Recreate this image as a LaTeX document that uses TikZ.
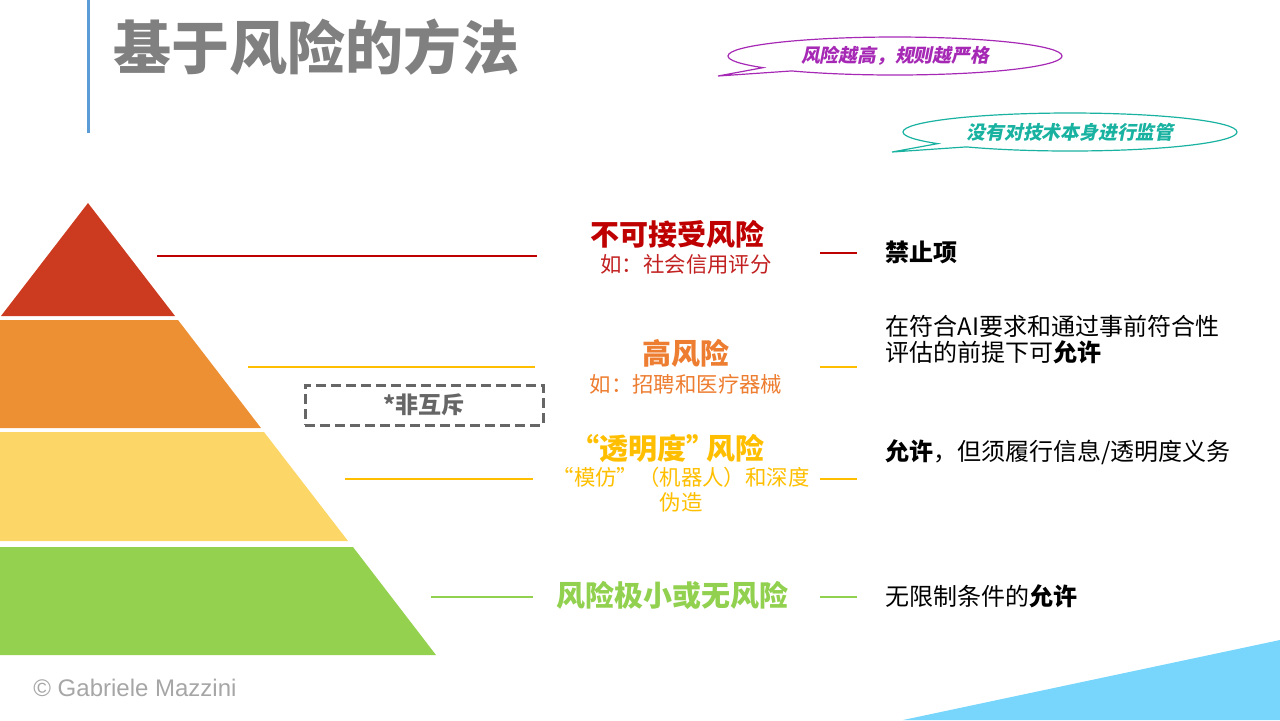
\documentclass[tikz,border=0pt]{standalone}
\usepackage{fontspec}
\setmainfont{Noto Sans CJK SC}
\newfontfamily\burbujafont{Noto Sans CJK SC}[FakeSlant=0.2]
\newfontfamily\creditofont{Liberation Sans}
\usetikzlibrary{positioning,shapes.callouts}
\definecolor{riskred}{rgb}{0.75,0.00,0.00}
\definecolor{exred}{rgb}{0.76,0.13,0.13}
\definecolor{riskorange}{rgb}{0.93,0.49,0.19}
\definecolor{riskgold}{rgb}{1.00,0.75,0.00}
\definecolor{riskgreen}{rgb}{0.57,0.82,0.31}
\definecolor{pyrred}{rgb}{0.80,0.23,0.12}
\definecolor{pyrorange}{rgb}{0.93,0.56,0.20}
\definecolor{pyryellow}{rgb}{0.99,0.84,0.40}
\definecolor{pyrgreen}{rgb}{0.58,0.82,0.31}
\definecolor{titlegray}{rgb}{0.50,0.50,0.50}
\definecolor{barblue}{rgb}{0.36,0.61,0.84}
\definecolor{bubblepurple}{rgb}{0.65,0.16,0.71}
\definecolor{bubbleteal}{rgb}{0.10,0.70,0.63}
\definecolor{boxgray}{rgb}{0.40,0.40,0.40}
\definecolor{creditgray}{rgb}{0.65,0.65,0.65}
\definecolor{cornerblue}{rgb}{0.47,0.84,0.99}
\tikzset{
  nivel/.style={
    inner sep=0pt,
    align=center,
    font=\bfseries\fontsize{14.5}{17}\selectfont
  },
  ejemplo/.style={
    inner sep=0pt,
    align=center,
    font=\fontsize{10.7}{12.5}\selectfont
  },
  regla/.style={
    inner sep=0pt,
    anchor=west,
    align=left,
    font=\fontsize{12}{13}\selectfont
  },
  burbuja/.style={
    ellipse callout,
    callout pointer arc=14,
    inner sep=0pt,
    minimum width=167pt,
    minimum height=19pt,
    line width=0.6pt,
    font=\burbujafont\bfseries\fontsize{9.4}{11}\selectfont
  },
  linea/.style={
    line width=1pt
  }
}

\begin{document}
\begin{tikzpicture}[x=0.5pt,y=-0.5pt]
\useasboundingbox (0,0) rectangle (1280,720);
\clip (0,0) rectangle (1280,720);
\fill[cornerblue] (903,720) -- (1280,640) -- (1280,720) -- cycle;
\draw[line width=1.5pt, barblue] (88,0) -- (88,133);
\node[anchor=west, inner sep=0pt, text=titlegray, font=\bfseries\fontsize{29}{32}\selectfont] (titulo) at (113,47) {基于风险的方法};
\node[burbuja, draw=bubblepurple, text=bubblepurple, callout absolute pointer={(718,76)}] (masriesgo) at (895,56) {风险越高，规则越严格};
\node[burbuja, draw=bubbleteal, text=bubbleteal, callout absolute pointer={(892,152)}] (sintec) at (1070,132) {没有对技术本身进行监管};
% piramide
\fill[pyrred] (88,203) -- (175,316) -- (1,316) -- cycle;
\fill[pyrorange] (-2,320) -- (178,320) -- (261,428) -- (-85,428) -- cycle;
\fill[pyryellow] (-88,432) -- (264,432) -- (348,541) -- (-172,541) -- cycle;
\fill[pyrgreen] (-177,547) -- (353,547) -- (436,655) -- (-260,655) -- cycle;
\node[draw=boxgray, dash pattern=on 5pt off 2.5pt, line width=1.5pt, minimum width=119pt, minimum height=20pt, inner sep=0pt, text=boxgray, font=\bfseries\fontsize{11.5}{13}\selectfont] (nomutuo) at (424,405) {*非互斥};
% niveles
\node[nivel, text=riskred] (inaceptable) at (677,234) {不可接受风险};
\node[ejemplo, text=exred] (inaceptableej) at (686,264) {如：社会信用评分};
\node[nivel, text=riskorange] (alto) at (686,353) {高风险};
\node[ejemplo, text=riskorange] (altoej) at (686,384) {如：招聘和医疗器械};
\node[nivel, text=riskgold] (transp) at (673,448) {\kern-0.4em“透明度”\kern-0.3em风险};
\node[ejemplo, text=riskgold] (transpej) at (681,490) {“模仿”（机器人）和深度\\伪造};
\node[nivel, text=riskgreen] (minimo) at (672,595) {风险极小或无风险};
% reglas
\node[regla] (prohibido) at (885,252) {\textbf{禁止项}};
\node[regla] (permitido) at (885,340) {在符合AI要求和通过事前符合性\\评估的前提下可\textbf{允许}};
\node[regla] (info) at (885,452) {\textbf{允许}，但须履行信息/透明度义务};
\node[regla] (libre) at (885,596) {无限制条件的\textbf{允许}};
% lineas
\coordinate (l1a) at (157,256);
\coordinate (l1b) at (537,256);
\coordinate (l2a) at (248,367);
\coordinate (l2b) at (535,367);
\coordinate (l3a) at (345,479);
\coordinate (l3b) at (533,479);
\coordinate (l4a) at (431,597);
\coordinate (l4b) at (533,597);
\coordinate (c1a) at (820,253);
\coordinate (c1b) at (857,253);
\coordinate (c2a) at (820,367);
\coordinate (c2b) at (857,367);
\coordinate (c3a) at (820,479);
\coordinate (c3b) at (857,479);
\coordinate (c4a) at (820,597);
\coordinate (c4b) at (857,597);
\draw[linea, riskred] (l1a) -- (l1b);
\draw[linea, riskgold] (l2a) -- (l2b);
\draw[linea, riskgold] (l3a) -- (l3b);
\draw[linea, riskgreen] (l4a) -- (l4b);
\draw[linea, riskred] (c1a) -- (c1b);
\draw[linea, riskgold] (c2a) -- (c2b);
\draw[linea, riskgold] (c3a) -- (c3b);
\draw[linea, riskgreen] (c4a) -- (c4b);
\node[anchor=west, inner sep=0pt, text=creditgray, font=\creditofont\fontsize{12}{14}\selectfont] (credito) at (33,688) {© Gabriele Mazzini};
\end{tikzpicture}
\end{document}
